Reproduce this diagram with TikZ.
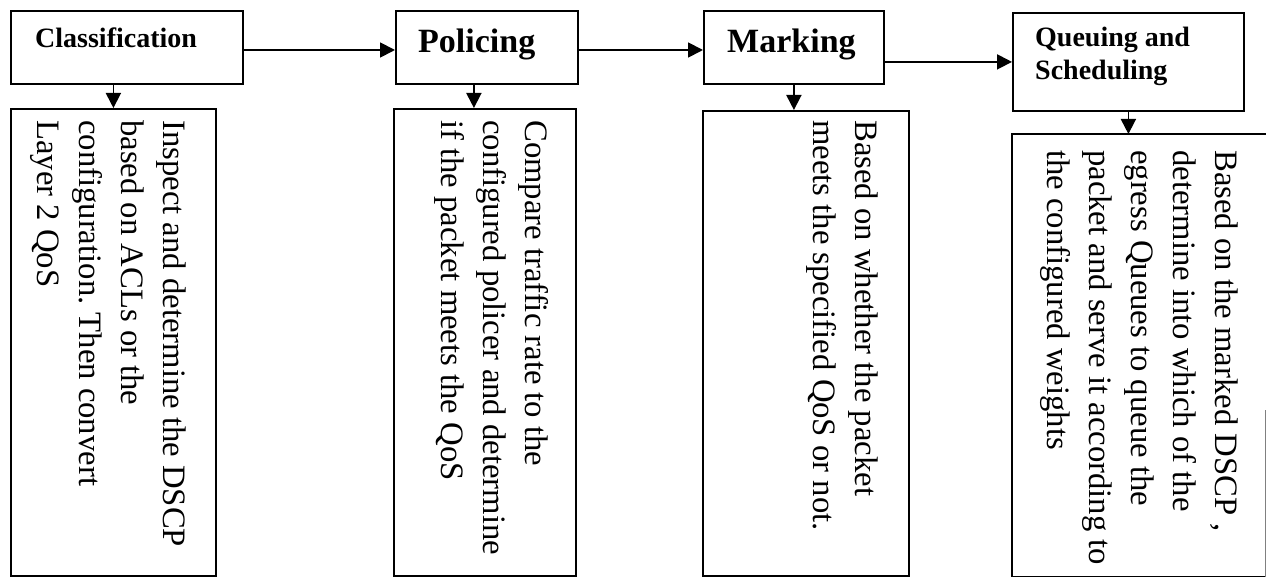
\documentclass[tikz,border=0pt]{standalone}
\usepackage{fontspec}
\setmainfont{Liberation Serif}
\usetikzlibrary{arrows.meta}
\frenchspacing

\begin{document}
\begin{tikzpicture}[x=1pt,y=-1pt,
  box/.style={draw, line width=1.8pt, inner sep=0pt, anchor=north west},
  title/.style={anchor=base west, inner sep=0pt, align=left,
    font=\bfseries\fontsize{34}{40}\selectfont},
  smalltitle/.style={title, font=\bfseries\fontsize{28}{33}\selectfont},
  body/.style={rotate=-90, anchor=base west, inner sep=0pt, align=left,
    font=\fontsize{32.7}{41.8}\selectfont},
  flow/.style={line width=1.8pt, -{Triangle[length=15pt,width=15pt]}}
]
\useasboundingbox (0,0) rectangle (1266,577);

% stage boxes
\node[box, minimum width=232pt, minimum height=73pt] (cls) at (10,10) {};
\node[box, minimum width=182pt, minimum height=73pt] (pol) at (395,10) {};
\node[box, minimum width=180pt, minimum height=73pt] (mrk) at (703,10) {};
\node[box, minimum width=231pt, minimum height=98pt] (que) at (1012,12) {};

% titles (base = baseline of the last line)
\node[smalltitle] (cls-t) at (35,48) {Classification};
\node[title] (pol-t) at (418,53) {Policing};
\node[title] (mrk-t) at (727,53) {Marking};
\node[smalltitle] (que-t) at (1035,80) {Queuing and\\Scheduling};

% description boxes
\node[box, minimum width=205pt, minimum height=467pt] (cls-d) at (10,108) {};
\node[box, minimum width=182pt, minimum height=467pt] (pol-d) at (393,108) {};
\node[box, minimum width=206pt, minimum height=465pt] (mrk-d) at (702,110) {};
\node[box, draw=none, minimum width=262pt, minimum height=441pt] (que-d) at (1012,134) {};
\draw[line width=1.8pt] (que-d.north east) -- (que-d.north west)
  -- (que-d.south west) -- (que-d.south east);
\coordinate (que-edge) at (1265,410);
\draw[line width=0.6pt, gray] (que-edge) -- (que-edge |- que-d.south);

% rotated descriptions, placed by the baseline of their last line
\node[body] (cls-x) at (37.6,120) {Inspect and determine the DSCP\\based on ACLs or the\\configuration. Then convert\\Layer 2 QoS};
\node[body] (pol-x) at (441.4,120) {Compare traffic rate to the\\configured policer and determine\\if the packet meets the QoS};
\node[body] (mrk-x) at (813.2,120) {Based on whether the packet\\meets the specified QoS or not.};
\node[body] (que-x) at (1047.8,150) {Based on the marked DSCP ,\\determine into which of the\\egress Queues to queue the\\packet and serve it according to\\the configured weights};

% flow between stages
\draw[flow] (cls.east |- 0,50) -- (pol.west |- 0,50);
\draw[flow] (pol.east |- 0,50) -- (mrk.west |- 0,50);
\draw[flow] (mrk.east |- que.west) -- (que.west);

% stage to description
\draw[flow] (cls-d.north |- cls.south) -- (cls-d.north);
\draw[flow] ([xshift=-13pt]pol.south) -- ([xshift=-13pt]pol.south |- pol-d.north);
\draw[flow] (mrk.south) -- (mrk.south |- mrk-d.north);
\draw[flow] (que.south) -- (que.south |- que-d.north);
\end{tikzpicture}
\end{document}
